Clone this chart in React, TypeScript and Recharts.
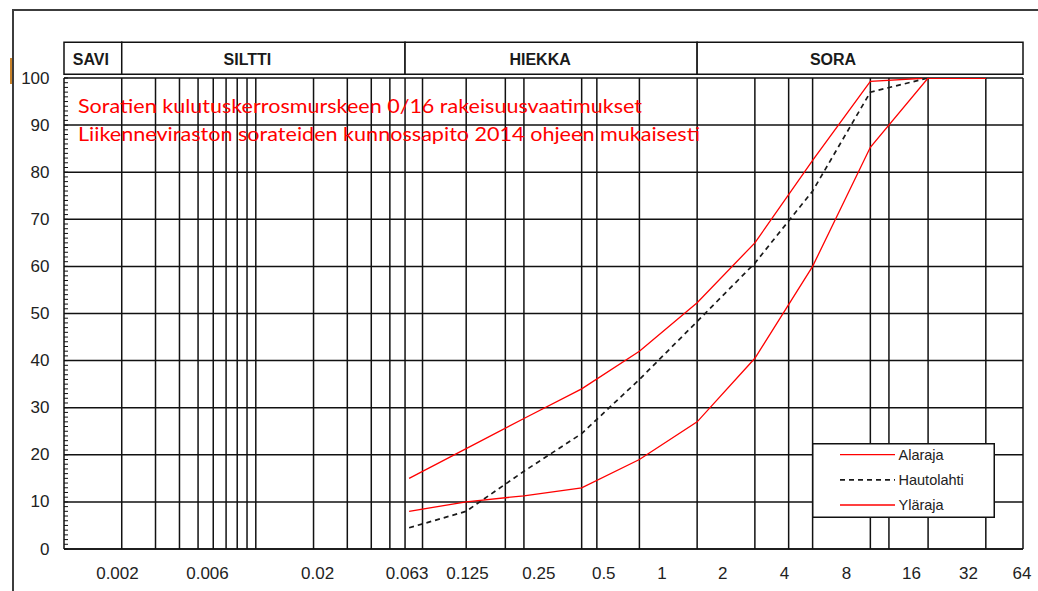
import React from 'react';
import { Legend, Line, LineChart, ReferenceArea, ReferenceLine, XAxis, YAxis } from 'recharts';

// sieve sizes (mm) and passing percentages
const SIZES = [0.063, 0.125, 0.25, 0.5, 1, 2, 4, 8, 16, 32, 64];
const ALARAJA = [15, 21.3, 27.7, 34, 42, 52.3, 65, 82.5, 99.3, 100, 100];
const HAUTOLAHTI = [4.5, 8, 16.5, 24.5, 36, 48.3, 60.7, 76, 97, 100, null];
const YLARAJA = [8, 10, 11.3, 13, 19, 27, 40.5, 60, 85.3, 100, 100];

// bottom labels, and where on the log axis each one sits (hand placed in the original sheet)
const X_LABELS = ['0.002', '0.006', '0.02', '0.063', '0.125', '0.25', '0.5', '1', '2', '4', '8', '16', '32', '64'];
const X_LABEL_AT = [0.0019, 0.0056, 0.021, 0.0615, 0.127, 0.299, 0.652, 1.31, 2.72, 5.7, 12, 26.2, 52, 98.9];

const GRID_X = [
  0.002, 0.003, 0.004, 0.005, 0.006, 0.007, 0.008, 0.009, 0.01, 0.02, 0.03, 0.04, 0.05, 0.06, 0.074,
  0.125, 0.2, 0.25, 0.5, 0.6, 1, 2, 4, 6, 8, 16, 20, 32, 64, 100,
];
const GRID_Y = [0, 10, 20, 30, 40, 50, 60, 70, 80, 90, 100];
const MINOR_Y = Array.from({ length: 101 }, (_, i) => i);

const FRACTIONS = [
  { name: 'SAVI', from: 0.001, to: 0.002 },
  { name: 'SILTTI', from: 0.002, to: 0.06 },
  { name: 'HIEKKA', from: 0.06, to: 2 },
  { name: 'SORA', from: 2, to: 100 },
];

const TITLE_LINES = [
  'Soratien kulutuskerrosmurskeen 0/16 rakeisuusvaatimukset',
  'Liikenneviraston sorateiden kunnossapito 2014 ohjeen mukaisesti',
];

const SERIES = [
  { key: 'alaraja', name: 'Alaraja', color: '#ff0000', width: 1.3, dash: undefined as string | undefined },
  { key: 'hautolahti', name: 'Hautolahti', color: '#1a1a1a', width: 1.7, dash: '5 4' },
  { key: 'ylaraja', name: 'Yläraja', color: '#ff0000', width: 1.3, dash: undefined as string | undefined },
];

const rows = SIZES.map((size, i) => ({
  size,
  alaraja: ALARAJA[i],
  hautolahti: HAUTOLAHTI[i],
  ylaraja: YLARAJA[i],
}));

// styling / layout
const FONT = '"Liberation Sans", Arial, sans-serif';
const INK = '#111';
const TEXT = '#222';
const Y_LABEL_GAP = 14.5;
const HEADER_TOP = 107.6;
const HEADER_BOTTOM = 100.8;
const HEADER_DX: Record<string, number> = { SAVI: -2, SILTTI: -16, HIEKKA: -11, SORA: -27 };
const TITLE_WIDTHS = [564, 622];

// y tick: label every 10, small inward mark on every unit
function YTick(props: any) {
  const { x, y, payload } = props;
  const v = payload.value;
  const ax = x + Y_LABEL_GAP;
  return (
    <g>
      <line x1={ax} x2={ax + 4} y1={y} y2={y} stroke={INK} strokeWidth={1} />
      {v % 10 === 0 && (
        <text x={x} y={y} textAnchor="end" dominantBaseline="central" fontFamily={FONT} fontSize={17} fill={TEXT}>
          {v}
        </text>
      )}
    </g>
  );
}

function HeaderLabel(props: any) {
  const { viewBox, text } = props;
  if (!viewBox) return null;
  const cx = viewBox.x + viewBox.width / 2 + (HEADER_DX[text] || 0);
  const cy = viewBox.y + viewBox.height / 2 + 1.5;
  return (
    <text x={cx} y={cy} textAnchor="middle" dominantBaseline="central" fontFamily={FONT} fontSize={16} fontWeight={700} fill="#1a1a1a">
      {text}
    </text>
  );
}

function GradingLegend({ payload }: any) {
  return (
    <svg width={183} height={75} style={{ display: 'block' }}>
      <rect x={0.75} y={0.75} width={181.5} height={73.5} fill="#fff" stroke={INK} strokeWidth={1.5} />
      {(payload || []).map((p: any, i: number) => {
        const s = SERIES.find((x) => x.key === p.dataKey);
        const cy = 11.6 + i * 25.2;
        return (
          <g key={p.value}>
            <line x1={28} x2={83} y1={cy} y2={cy} stroke={s ? s.color : p.color} strokeWidth={s ? s.width : 1} strokeDasharray={s?.dash} />
            <text x={86.5} y={cy} dominantBaseline="central" fontFamily={FONT} fontSize={14.5} fill={TEXT}>
              {p.value}
            </text>
          </g>
        );
      })}
    </svg>
  );
}

export default function App() {
  return (
    <div style={{ position: 'absolute', left: 0, top: 0, width: 1038, height: 591, background: '#fff', overflow: 'hidden' }}>
      <div style={{ position: 'absolute', left: 12, top: 9, width: 1040, height: 600, borderLeft: '2px solid #3c3c3c', borderTop: '2px solid #3c3c3c' }} />
      <div style={{ position: 'absolute', left: 10, top: 58, width: 2, height: 26, background: '#c8822a' }} />
      <LineChart width={1038} height={591} data={rows} margin={{ top: 78, right: 15, bottom: 0, left: 12 }}>
        <XAxis
          dataKey="size"
          type="number"
          scale="log"
          domain={[0.001, 100]}
          allowDataOverflow
          ticks={X_LABEL_AT}
          interval={0}
          tickFormatter={(_v: number, i: number) => X_LABELS[i]}
          tickLine={false}
          tickSize={0}
          tickMargin={18}
          height={42}
          axisLine={{ stroke: INK, strokeWidth: 1.5 }}
          tick={{ fill: TEXT, fontSize: 17, fontFamily: FONT }}
        />
        <YAxis
          type="number"
          domain={[0, 100]}
          allowDataOverflow
          ticks={MINOR_Y}
          interval={0}
          width={52}
          tickSize={0}
          tickMargin={Y_LABEL_GAP}
          tickLine={false}
          axisLine={{ stroke: INK, strokeWidth: 1.5 }}
          tick={<YTick />}
        />
        {GRID_Y.map((v) => (
          <ReferenceLine key={`y${v}`} y={v} stroke={INK} strokeWidth={1.5} ifOverflow="visible" />
        ))}
        {GRID_X.map((v) => (
          <ReferenceLine key={`x${v}`} x={v} stroke={INK} strokeWidth={1.5} ifOverflow="visible" />
        ))}
        {FRACTIONS.map((f) => (
          <ReferenceArea
            key={f.name}
            x1={f.from}
            x2={f.to}
            y1={HEADER_BOTTOM}
            y2={HEADER_TOP}
            ifOverflow="visible"
            fill="#fff"
            fillOpacity={1}
            stroke={INK}
            strokeWidth={1.5}
            label={<HeaderLabel text={f.name} />}
          />
        ))}
        {SERIES.map((s) => (
          <Line
            key={s.key}
            type="linear"
            dataKey={s.key}
            name={s.name}
            stroke={s.color}
            strokeWidth={s.width}
            strokeDasharray={s.dash}
            dot={false}
            activeDot={false}
            isAnimationActive={false}
          />
        ))}
        <Legend
          layout="vertical"
          align="center"
          verticalAlign="middle"
          content={<GradingLegend />}
          wrapperStyle={{ left: 812, top: 443, width: 183, height: 75 }}
        />
      </LineChart>
      <svg width={1038} height={591} style={{ position: 'absolute', left: 0, top: 0, pointerEvents: 'none' }}>
        {TITLE_LINES.map((t, i) => (
          <text
            key={t}
            x={78}
            y={112.7 + i * 28}
            fontFamily="Lato, 'Open Sans', sans-serif"
            fontSize={20}
            fill="#ff0000"
            textLength={TITLE_WIDTHS[i]}
            lengthAdjust="spacingAndGlyphs"
          >
            {t}
          </text>
        ))}
      </svg>
    </div>
  );
}
